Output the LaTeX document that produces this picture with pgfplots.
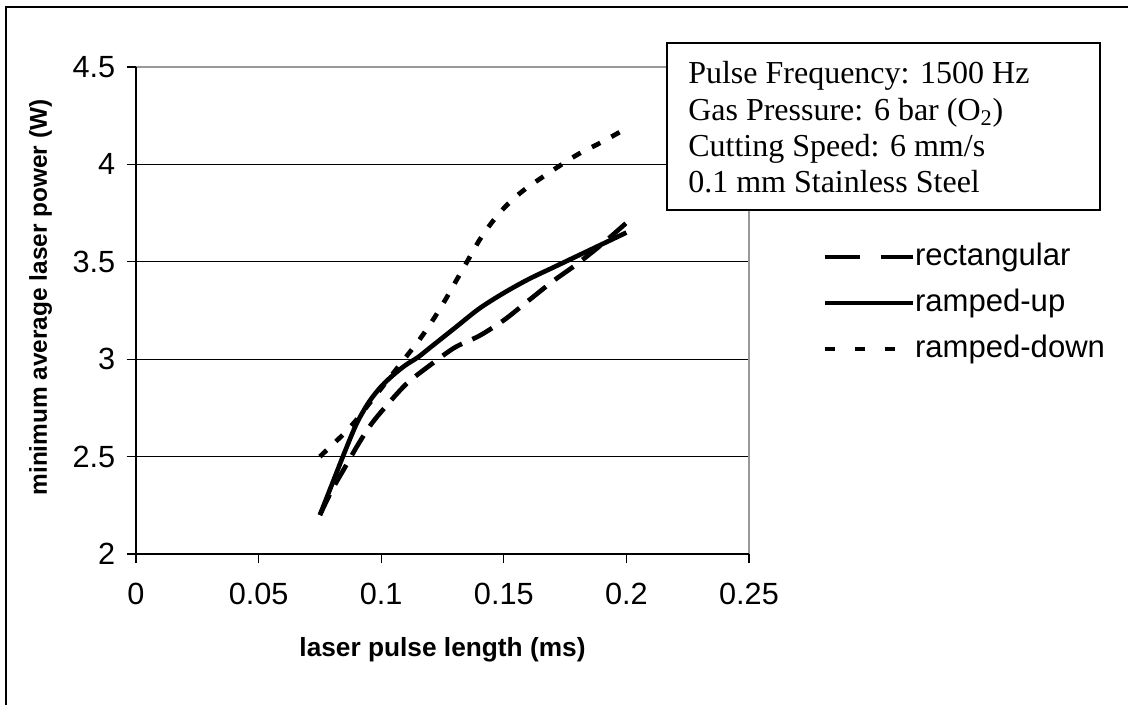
\documentclass[border=0pt]{standalone}
\usepackage{fontspec}
\setmainfont{Liberation Sans}
\newfontfamily\tnr{Liberation Serif}
\usepackage{pgfplots}
\pgfplotsset{compat=1.18}
\begin{document}
\begin{tikzpicture}
\useasboundingbox (0,0) rectangle (846pt,528pt);
\fill[white] (0,0) rectangle (846pt,528pt);
\draw[black, line width=1.5pt] (4.5pt,-20pt) -- (4.5pt,522.75pt) -- (900pt,522.75pt);
\begin{axis}[
  at={(102pt,112.5pt)}, anchor=south west,
  scale only axis, width=459.75pt, height=365.25pt,
  xmin=0, xmax=0.25, ymin=2, ymax=4.5,
  xtick={0,0.05,0.1,0.15,0.2,0.25},
  xticklabels={0,0.05,0.1,0.15,0.2,0.25},
  ytick={2,2.5,3,3.5,4,4.5},
  yticklabels={2,2.5,3,3.5,4,4.5},
  xtick pos=bottom, ytick pos=left,
  tick align=outside,
  major tick length=7pt,
  every tick/.style={black, line width=0.9pt},
  ymajorgrids,
  major grid style={black, line width=0.75pt},
  axis line style={draw=none},
  tick label style={font=\fontsize{23}{27}\selectfont},
  yticklabel style={xshift=-5pt},
  xticklabel style={yshift=-11pt},
  xlabel={laser pulse length (ms)},
  ylabel={minimum average laser power (W)},
  xlabel style={font=\fontsize{19.7}{23}\selectfont\bfseries, at={(axis description cs:0.5,-0.197)}, anchor=center},
  ylabel style={font=\fontsize{18.3}{22}\selectfont\bfseries, at={(axis description cs:-0.1555,0.5267)}, anchor=center},
  legend style={at={(axis description cs:1.1191,0.5154)}, anchor=west,
    draw=none, fill=none, inner sep=0pt, row sep=13.5pt,
    font=\fontsize{23.3}{27}\selectfont,
    nodes={inner sep=0pt, text height=16.5pt, text depth=4.5pt},
    /tikz/every even column/.append style={column sep=5pt}},
  legend cell align=left,
  legend image code/.code={\draw[#1] (0pt,0pt) -- (66pt,0pt);},
  clip=false,
]
\draw[gray!80, line width=1.5pt] (rel axis cs:0,1) -- (rel axis cs:1,1) -- (rel axis cs:1,0);
\draw[black, line width=1.3pt] (rel axis cs:0,1) -- (rel axis cs:0,0) -- (rel axis cs:1,0);

\addlegendimage{black, line width=3.6pt, dash pattern=on 26.25pt off 15.75pt on 30pt}
\addlegendentry{rectangular}
\addlegendimage{black, line width=3.6pt}
\addlegendentry{ramped-up}
\addlegendimage{black, line width=3.6pt, dash pattern=on 7.5pt off 15pt}
\addlegendentry{ramped-down}

% rectangular
\addplot[black, line width=3.5pt, smooth, dash pattern=on 17pt off 8.5pt, forget plot] coordinates {
(0.075,2.2) (0.08,2.33) (0.085,2.44) (0.09,2.55) (0.095,2.65) (0.1,2.73)
(0.11,2.87) (0.12,2.97) (0.13,3.06) (0.14,3.12) (0.15,3.2) (0.16,3.3)
(0.17,3.4) (0.18,3.49) (0.19,3.59) (0.2,3.70)};
% ramped-up
\addplot[black, line width=3.5pt, smooth, forget plot] coordinates {
(0.075,2.2) (0.08,2.36) (0.085,2.52) (0.09,2.67) (0.095,2.78) (0.1,2.86)
(0.105,2.92) (0.11,2.97) (0.115,3.01) (0.12,3.06) (0.13,3.16) (0.14,3.26)
(0.15,3.34) (0.16,3.41) (0.17,3.47) (0.18,3.53) (0.19,3.59) (0.2,3.65)};
% ramped-down
\addplot[black, line width=3.5pt, smooth, dash pattern=on 7pt off 9.5pt, forget plot] coordinates {
(0.075,2.5) (0.08,2.56) (0.085,2.62) (0.09,2.69) (0.095,2.77) (0.1,2.85)
(0.105,2.93) (0.11,3.01) (0.115,3.09) (0.12,3.18) (0.125,3.28) (0.13,3.39)
(0.135,3.5) (0.14,3.61) (0.145,3.7) (0.15,3.775) (0.155,3.835) (0.16,3.885)
(0.17,3.97) (0.18,4.05) (0.19,4.115) (0.2,4.185)};
\end{axis}
\draw[black, line width=1.5pt, fill=white] (500.25pt,370.5pt) rectangle (825pt,495.75pt);
\begin{scope}[every node/.style={anchor=base west, inner sep=0pt, font=\tnr\fontsize{24}{28}\selectfont}]
\node at (516pt,465.5pt) {Pulse Frequency: 1500 Hz};
\node at (516pt,437.25pt) {Gas Pressure: 6 bar (O\textsubscript{2})};
\node at (516pt,410.25pt) {Cutting Speed: 6 mm/s};
\node at (516pt,383.25pt) {0.1 mm Stainless Steel};
\end{scope}
\end{tikzpicture}
\end{document}
